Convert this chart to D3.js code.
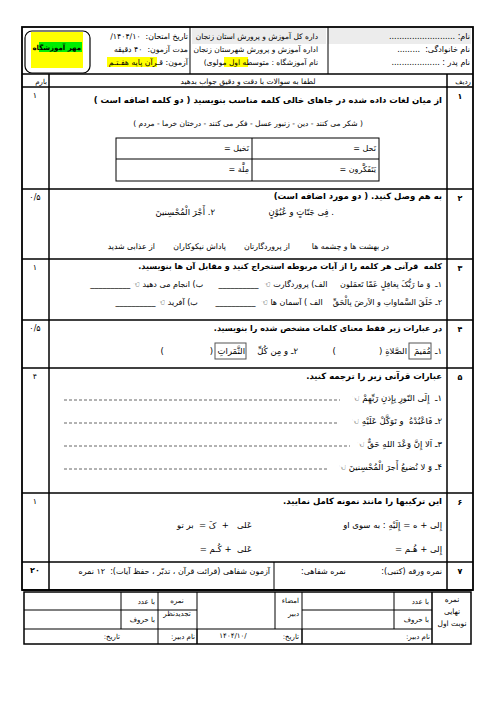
<!DOCTYPE html>
<html><head><meta charset="utf-8">
<script src="https://cdn.jsdelivr.net/npm/d3@7"></script>
<style>body{margin:0;background:#fff}svg text{font-family:"DejaVu Sans",sans-serif;white-space:pre}</style>
</head><body><svg id="s" width="496" height="702"></svg>
<script>
const rowNums=["۱","۲","۳","۴","۵","۶","۷"];
const rowScores=["۱","۰/۵","۱","۰/۵","۴","۱","۲۰"];
const rowTops=[87,189,259,320,368,493,562];
const headerRight=["نام: ..........................","نام خانوادگی:  .........","نام پدر : ..................."];
const headerMid=["داره کل آموزش و پرورش استان زنجان","اداره آموزش و پرورش شهرستان زنجان","نام آموزشگاه : متوسطه اول مولوی)"];
const headerLeft=["تاریخ امتحان:  ۱۴۰۴/۱۰/","مدت آزمون:  ۴۰ دقیقه","آزمون: قـرآن پایه هفـتـم"];
const wordBank="( شکر می کنند - دین - زنبور عسل - فکر می کنند - درختان خرما - مردم )";
const q1Cells=["نَحل =","نَخیل =","یَتَفَکَّرون =","مِلَّة ="];
const q2Answers=["در بهشت ها و چشمه ها","از پروردگارتان","پاداش نیکوکاران","از عذابی شدید"];
const q5Items=["۱ـ  إِلَی النّورِ بِإِذنِ رَبِّهِمْ","۲ـ فَاعْبُدْهُ  و تَوَکَّلْ عَلَیْهِ","۳ـ اَلا إِنَّ وَعْدَ اللهِ حَقٌّ","۴ـ وَ لا نُضیعُ أَجرَ الْمُحْسِنینَ"];
const footerTexts=["نمره","نهایی","نوبت اول"];

const svg=d3.select("#s");
const X0=22,X1=473,C1=49,C2=447;
const y=d3.scaleLinear().domain([0,702]).range([0,702]);
function line(x1,y1,x2,y2,w=1,dash){const l=svg.append("line").attr("x1",x1).attr("y1",y(y1)).attr("x2",x2).attr("y2",y(y2)).attr("stroke",dash?"#666":"#000").attr("stroke-width",w);if(dash)l.attr("stroke-dasharray",dash);return l;}
function rect(x,yy,w,h,fill,stroke,sw=1){return svg.append("rect").attr("x",x).attr("y",y(yy)).attr("width",w).attr("height",h).attr("fill",fill||"none").attr("stroke",stroke||"none").attr("stroke-width",sw);}
function txt(x,yy,s,o={}){const t=svg.append("text").attr("x",x).attr("y",y(yy)).attr("font-size",o.size||8).attr("font-weight",o.bold?"bold":"normal").attr("fill",o.fill||"#000").text(s);
 if(o.anchor==="middle")t.attr("text-anchor","middle");else t.attr("direction","rtl").attr("text-anchor","start");return t;}

// header
rect(328,28,143,16,"#ececec");rect(192,28,134,16,"#ececec");
rect(X0,27,X1-X0,563,null,"#000",1.8);
line(X0,74,X1,74,1.5);line(X0,87,X1,87,1.5);
line(328,27,328,74,1);line(190,27,190,74,1);
rect(224,57,24,10,"#ffff00");rect(107,57,50,10,"#ffff00");
headerRight.forEach((s,i)=>txt(470,39+i*13,s,{size:8}));
headerMid.forEach((s,i)=>txt(318,39+i*13,s,{size:7.5}));
headerLeft.forEach((s,i)=>txt(188,39+i*13,s,{size:7.8}));
svg.append("rect").attr("x",25).attr("y",31).attr("width",65).attr("height",42).attr("rx",7).attr("fill","none").attr("stroke","#000").attr("stroke-width",1.2);
rect(31,32,52,36,"#ffff00");rect(39,42,43,10,"#00ee00");
txt(81,50,"مهر آموزشگاه",{size:7,bold:true});
// column header
txt(471,84,"ردیف",{size:7});txt(47,84,"بارم",{size:7});txt(248,84,"لطفا به سوالات با دقت و دقیق جواب بدهید",{size:7.5,anchor:"middle"});
// column lines & rows
line(C1,74,C1,590,1.5);line(C2,74,C2,590,1.5);
rowTops.forEach((t,i)=>{if(i>0)line(X0,t,X1,t,1.5);
 txt(460,t+12,rowNums[i],{size:8,anchor:"middle",bold:true});txt(35,t+11,rowScores[i],{size:8,anchor:"middle",bold:i===6});});
line(X0,590,X1,590,1.5);
// Q1
txt(442,103,"از میان لغات داده شده در جاهای خالی کلمه مناسب بنویسید ( دو کلمه اضافه است )",{size:8.5,bold:true});
txt(248,126,wordBank,{size:7.5,anchor:"middle"});
rect(116,138,263,43,null,"#000",1);line(116,159,379,159);line(252,138,252,181);
q1Cells.forEach((s,i)=>txt(i%2?249:376,151+(i>>1)*21,s,{size:8}));
// Q2
txt(442,199,"به هم وصل کنید. ( دو مورد اضافه است)",{size:8.5,bold:true});
txt(334,215,". فِی جَنّاتٍ و عُیُوْنٍ",{size:8.5});txt(215,215,"۲. أَجْرَ الْمُحْسِنینَ",{size:8.5});
[389,290,226,155].forEach((x,i)=>txt(x,249,q2Answers[i],{size:7.8}));
// Q3
txt(442,269,"کلمه  قرآنی هر کلمه را از آیات مربوطه استخراج کنید و مقابل آن ها بنویسید.",{size:8,bold:true});
txt(442,287,"۱ـ  وَ ما رَبُّکَ بِغافِلٍ عَمّا تَعمَلون     الف) پروردگارت ☜  __________      ب) انجام می دهید ☜ __________",{size:8});
txt(442,305,"۲ـ خَلَقَ السَّماواتِ و الاَرضَ بِالْحَقِّ    الف ) آسمان ها ☜  __________       ب) آفرید ☜ __________",{size:8});
// Q4
txt(442,331,"در عبارات زیر فقط معنای کلمات مشخص شده را بنویسید.",{size:8,bold:true});
txt(442,354,"۱ـ",{size:8.5});txt(431,354,"مُقیمَ",{size:8.5});txt(407,354,"الصَّلاةِ (                )",{size:8.5});
txt(298,354,"۲ـ و مِن کُلِّ",{size:8.5});txt(245,354,"الثَّمَراتِ",{size:8.5});txt(213,354,"(                 )",{size:8.5});
rect(409,343,22,16,null,"#555");rect(215,343,31,16,null,"#555");
// Q5
txt(442,379,"عبارات قرآنی زیر را ترجمه کنید.",{size:8.5,bold:true});
q5Items.forEach((s,i)=>{const yy=401+i*23;txt(442,yy,s+" ☜",{size:8.5});line(64,yy-1,[340,338,350,328][i],yy-1,1,"3,2");});
// Q6
txt(442,504,"این ترکیبها را مانند نمونه کامل نمایید.",{size:8.5,bold:true});
txt(442,528,"إِلی + ه = إِلَیْهِ : به سوی او",{size:8.5});txt(252,528,"عَلی   +  کَ =  بر تو",{size:8.5});
txt(442,552,"إِلی + هُـم =",{size:8.5});txt(252,552,"عَلی  + کُـم =",{size:8.5});
// Q7
line(274,562,274,590,1);
txt(442,574,"نمره ورقه (کتبی):              نمره شفاهی:",{size:8});
txt(270,574,"آزمون شفاهی (قرائت قرآن ، تدبّر ، حفظ آیات):  ۱۲ نمره",{size:8});
// footer
rect(24,592,447,52,null,"#000",1.5);
[121,158,197,275,302,394,432].forEach(x=>line(x,592,x,x===121||x===275||x===394?629:644,1));
line(24,610,197,610);line(302,610,432,610);line(24,629,432,629,1.2);
line(197,629,197,644);line(302,629,302,644);line(432,592,432,644);
footerTexts.forEach((s,i)=>txt(452,602+i*12,s,{size:7.5,anchor:"middle"}));
txt(429,604,"با عدد",{size:7});txt(429,622,"با حروف",{size:7});
txt(155,604,"با عدد",{size:7});txt(155,622,"با حروف",{size:7});
txt(177,603,"نمره",{size:7,anchor:"middle"});txt(177,616,"تجدیدنظر",{size:7,anchor:"middle"});
txt(299,603,"امضاء",{size:7});txt(299,616,"دبیر",{size:7});
txt(430,639,"نام دبیر:",{size:7});txt(299,639,"تاریخ:",{size:7});txt(233,638,"۱۴۰۴/۱۰/",{size:7,anchor:"middle"});
txt(195,639,"نام دبیر:",{size:7});txt(120,639,"تاریخ:",{size:7});
</script></body></html>
